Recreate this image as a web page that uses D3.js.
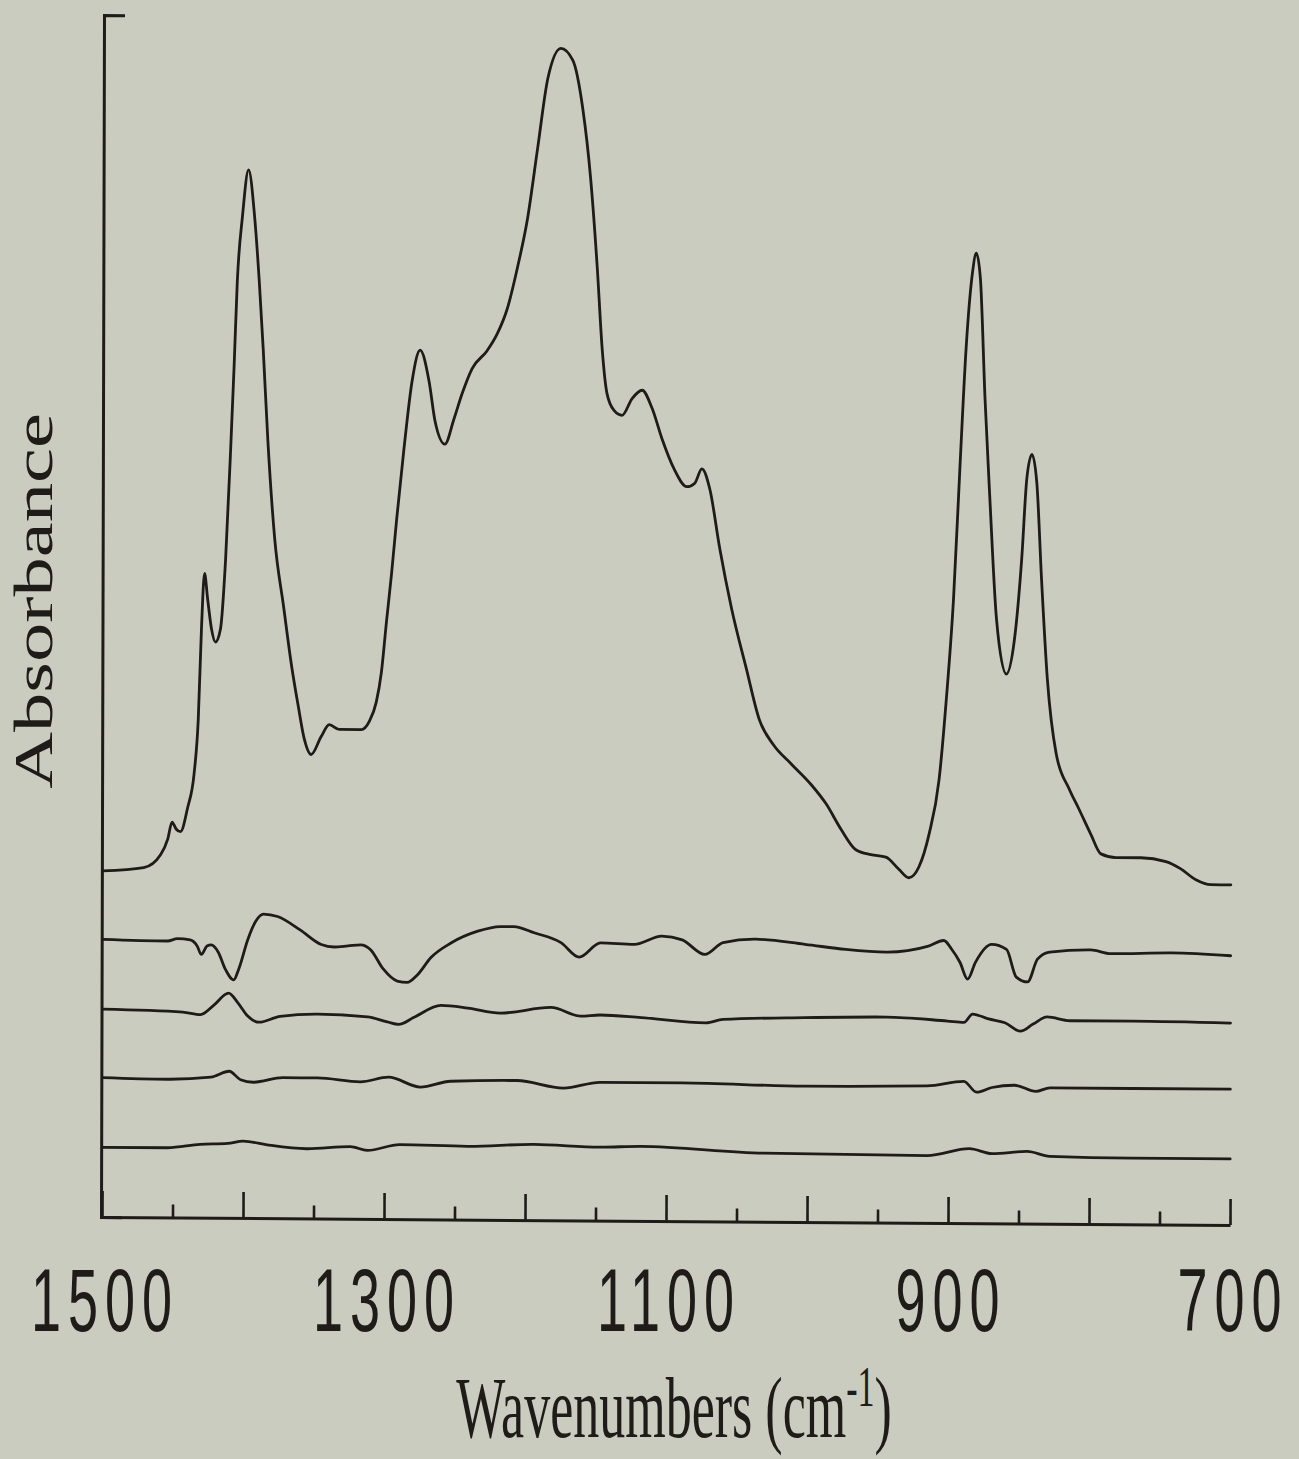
<!DOCTYPE html>
<html>
<head>
<meta charset="utf-8">
<script src="https://cdn.jsdelivr.net/npm/d3@7"></script>
<style>
  html, body { margin: 0; padding: 0; background: #cbccc0; }
  svg { display: block; }
</style>
</head>
<body>
<div id="chart"></div>
<script>
// [wavenumber cm-1, absorbance (a.u.)]
const spectrumTop = [
  [1500, 0.288], [1471, 0.291], [1459, 0.302], [1454, 0.315], [1451, 0.329], [1448, 0.323],
  [1445, 0.321], [1440, 0.341], [1435.5, 0.369], [1432.6, 0.415], [1430.5, 0.490], [1428.4, 0.536],
  [1426.2, 0.515], [1423.4, 0.490], [1420.6, 0.479], [1417, 0.490], [1413.5, 0.548], [1409.9, 0.646],
  [1407.8, 0.709], [1405.7, 0.779], [1402.1, 0.834], [1397.9, 0.872], [1393.6, 0.834], [1390.1, 0.779],
  [1387.2, 0.723], [1383.7, 0.646], [1378.7, 0.565], [1372.3, 0.509], [1366.7, 0.461], [1361.7, 0.426],
  [1357.4, 0.399], [1352.5, 0.386], [1345.4, 0.401], [1339.7, 0.411], [1332.6, 0.407], [1317, 0.407],
  [1311.3, 0.414], [1306.4, 0.430], [1302.8, 0.455], [1299.3, 0.497], [1295.7, 0.538], [1292.2, 0.583],
  [1287.2, 0.641], [1281.6, 0.697], [1275.9, 0.723], [1269.5, 0.697], [1265.2, 0.664], [1258.2, 0.645],
  [1251.8, 0.666], [1246.1, 0.687], [1239, 0.708], [1228.4, 0.723], [1221.3, 0.737], [1214.2, 0.758],
  [1207.1, 0.792], [1200, 0.833], [1192.9, 0.892], [1185.8, 0.950], [1176.6, 0.975], [1168.1, 0.965],
  [1161, 0.925], [1155.3, 0.867], [1150.4, 0.792], [1146.8, 0.725], [1143.3, 0.688], [1138.3, 0.674],
  [1132.6, 0.670], [1125.5, 0.684], [1118.4, 0.691], [1111.3, 0.676], [1104.3, 0.651], [1095.7, 0.626],
  [1086.5, 0.611], [1080.9, 0.614], [1075.9, 0.626], [1070.2, 0.609], [1063.1, 0.560], [1054.6, 0.510],
  [1044, 0.460], [1034.8, 0.418], [1024.8, 0.397], [1012, 0.381], [997.9, 0.364], [987.2, 0.348],
  [976.6, 0.327], [966, 0.310], [955.3, 0.306], [944.7, 0.304], [935.5, 0.294], [928.4, 0.287],
  [921.3, 0.296], [914.2, 0.323], [907.1, 0.369], [902.1, 0.436], [897.2, 0.519], [892.9, 0.628],
  [888.7, 0.728], [884.4, 0.790], [881.6, 0.807], [878.7, 0.786], [875.2, 0.686], [871.6, 0.603],
  [866.7, 0.503], [859.6, 0.457], [853.9, 0.486], [848.9, 0.553], [845.4, 0.620], [841.8, 0.640],
  [838.3, 0.616], [834.8, 0.536], [830.5, 0.453], [824.1, 0.391], [814.9, 0.362], [807.8, 0.345],
  [799.3, 0.324], [792.2, 0.308], [781.6, 0.305], [763.8, 0.305], [746.1, 0.302], [735.5, 0.296],
  [724.8, 0.287], [714.2, 0.283], [700, 0.283]
];

const spectrum2 = [
  [1500, 0.231], [1454, 0.230], [1447, 0.232], [1438, 0.231], [1433, 0.226], [1430, 0.219],
  [1426, 0.226], [1423, 0.227], [1418, 0.221], [1413, 0.207], [1407, 0.198], [1403.5, 0.207],
  [1397, 0.232], [1391.5, 0.247], [1386, 0.253], [1376, 0.251], [1360, 0.240], [1345, 0.228],
  [1336, 0.226], [1326, 0.227], [1317, 0.228], [1310, 0.224], [1301, 0.208], [1291, 0.198],
  [1284, 0.197], [1277, 0.203], [1267, 0.218], [1253, 0.230], [1234, 0.240], [1218, 0.244],
  [1208.5, 0.244], [1194, 0.239], [1175, 0.231], [1162, 0.219], [1147, 0.231], [1123, 0.230],
  [1103.5, 0.237], [1089, 0.234], [1073, 0.222], [1060, 0.232], [1037, 0.235], [1002, 0.231],
  [973, 0.227], [944, 0.225], [915, 0.230], [903.5, 0.235], [898, 0.228], [892, 0.217],
  [886.5, 0.203], [881, 0.217], [869.5, 0.232], [859, 0.228], [852, 0.205], [844, 0.201],
  [837, 0.220], [828.4, 0.226], [799.3, 0.228], [785, 0.225], [742, 0.226], [700, 0.224]
];

const spectrum3 = [
  [1500, 0.173], [1443, 0.171], [1430.5, 0.169], [1421, 0.177], [1410.6, 0.187], [1404, 0.179],
  [1397, 0.168], [1389, 0.163], [1374, 0.168], [1347.5, 0.170], [1312, 0.168], [1298, 0.164],
  [1290, 0.162], [1279, 0.168], [1260, 0.178], [1241, 0.176], [1218, 0.172], [1182, 0.177],
  [1161, 0.170], [1147, 0.171], [1118, 0.169], [1072, 0.165], [1060, 0.168], [1002, 0.170],
  [944, 0.171], [900.7, 0.168], [889, 0.167], [883, 0.174], [871.6, 0.170], [860, 0.167],
  [849, 0.160], [840, 0.166], [830, 0.172], [814, 0.169], [770, 0.169], [700, 0.168]
];

const spectrum4 = [
  [1500, 0.116], [1454, 0.115], [1423, 0.117], [1410, 0.122], [1402, 0.115], [1393, 0.113],
  [1372, 0.117], [1347.5, 0.117], [1317, 0.114], [1297, 0.118], [1274.5, 0.110], [1253, 0.115],
  [1206, 0.116], [1173, 0.110], [1147, 0.115], [1089, 0.115], [1002, 0.113], [915, 0.114],
  [889, 0.118], [880, 0.109], [869, 0.113], [853, 0.115], [838, 0.110], [828, 0.113],
  [770, 0.113], [700, 0.113]
];

const spectrum5 = [
  [1500, 0.058], [1454, 0.058], [1430.5, 0.061], [1411, 0.062], [1400, 0.064], [1383, 0.061],
  [1355, 0.058], [1324, 0.060], [1312, 0.057], [1289, 0.062], [1241, 0.061], [1194, 0.063],
  [1147, 0.061], [1118, 0.062], [1031, 0.057], [915, 0.056], [885, 0.062], [869, 0.058],
  [844, 0.060], [828, 0.056], [770, 0.055], [700, 0.055]
];

const spectra = [spectrumTop, spectrum2, spectrum3, spectrum4, spectrum5];
const tickValues = [1500, 1450, 1400, 1350, 1300, 1250, 1200, 1150, 1100, 1050, 1000, 950, 900, 850, 800, 750, 700];
const tickLabels = [1500, 1300, 1100, 900, 700];

const width = 1299, height = 1459;
const ink = '#1e1b19';

const svg = d3.select('#chart').append('svg')
  .attr('width', width)
  .attr('height', height);

svg.append('rect')
  .attr('width', width)
  .attr('height', height)
  .attr('fill', '#cbccc0');

const x = d3.scaleLinear().domain([1500, 700]).range([102, 1230]);
const y = d3.scaleLinear().domain([0, 1]).range([1217, 15]);

// the scan is slightly skewed, so the plot frame is too
const plot = svg.append('g')
  .attr('transform', 'translate(101,1217) matrix(1,0.0071,-0.0025,1,0,0) translate(-101,-1217)');

// left axis: plain line with a short inward tick at the top
const yAxis = plot.append('g')
  .attr('transform', 'translate(101,0)')
  .call(d3.axisLeft(y).tickValues([]).tickSizeOuter(-21));
yAxis.select('.domain')
  .attr('stroke', ink)
  .attr('stroke-width', 3)
  .attr('fill', 'none');

// bottom axis, ticks pointing up, long every 100
const xAxis = plot.append('g')
  .attr('transform', 'translate(0,1217)')
  .call(d3.axisBottom(x).tickValues(tickValues).tickFormat('').tickSizeOuter(0).tickSizeInner(-26));
xAxis.select('.domain')
  .attr('stroke', ink)
  .attr('stroke-width', 3);
xAxis.selectAll('.tick line')
  .attr('stroke', ink)
  .attr('stroke-width', 2.6)
  .attr('y2', d => d % 100 === 0 ? -26 : -13);

const line = d3.line()
  .x(d => x(d[0]))
  .y(d => y(d[1]))
  .curve(d3.curveMonotoneX);

plot.append('g')
  .selectAll('path')
  .data(spectra)
  .enter().append('path')
  .attr('d', line)
  .attr('fill', 'none')
  .attr('stroke', ink)
  .attr('stroke-width', 2.8)
  .attr('stroke-linejoin', 'round')
  .attr('stroke-linecap', 'round');

// tick labels (stretched tall like the original)
svg.append('g')
  .selectAll('text')
  .data(tickLabels)
  .enter().append('text')
  .attr('transform', d => `translate(${x(d) + 3},1331) scale(1,1.65)`)
  .attr('text-anchor', 'middle')
  .attr('font-family', '"Liberation Sans", Arial, sans-serif')
  .attr('font-size', 54)
  .attr('letter-spacing', 7)
  .attr('fill', ink)
  .text(d => d);

// x axis title
const xTitle = svg.append('text')
  .attr('transform', 'translate(674,1437) scale(1,1.65)')
  .attr('text-anchor', 'middle')
  .attr('font-family', '"Liberation Serif", "Times New Roman", serif')
  .attr('font-size', 52)
  .attr('fill', ink);
xTitle.append('tspan').text('Wavenumbers (cm');
xTitle.append('tspan').attr('font-size', 34).attr('dy', -19).text('-1');
xTitle.append('tspan').attr('dy', 19).text(')');

// y axis title
svg.append('text')
  .attr('transform', 'translate(52,601) rotate(-90) scale(1.43,1)')
  .attr('text-anchor', 'middle')
  .attr('font-family', '"Liberation Serif", "Times New Roman", serif')
  .attr('font-size', 55)
  .attr('fill', ink)
  .text('Absorbance');
</script>
</body>
</html>
